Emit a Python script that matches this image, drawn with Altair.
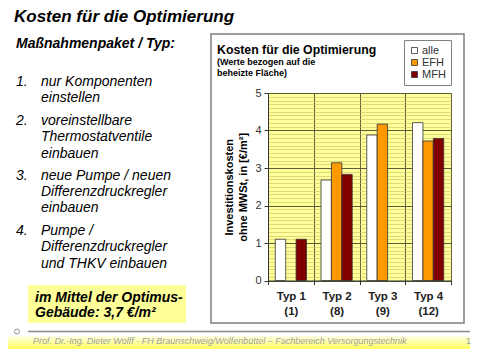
import altair as alt
import pandas as pd

# ---------------- data ----------------
typ = ["Typ 1", "Typ 2", "Typ 3", "Typ 4"]
anzahl = ["(1)", "(8)", "(9)", "(12)"]
serien = ["alle", "EFH", "MFH"]
alle = [1.10, 2.68, 3.88, 4.21]
efh = [None, 3.14, 4.17, 3.72]
mfh = [1.10, 2.83, None, 3.79]
farben = ["#FFFFFF", "#FF9900", "#800000"]

slide_title = "Kosten für die Optimierung"
heading = "Maßnahmenpaket / Typ:"
nummern = ["1.", "2.", "3.", "4."]
items = [
    ["nur Komponenten", "einstellen"],
    ["voreinstellbare", "Thermostatventile", "einbauen"],
    ["neue Pumpe / neuen", "Differenzdruckregler", "einbauen"],
    ["Pumpe /", "Differenzdruckregler", "und THKV einbauen"],
]
highlight = ["im Mittel der Optimus-", "Gebäude: 3,7 €/m²"]
chart_title = "Kosten für die Optimierung"
chart_subtitle = ["(Werte bezogen auf die", "beheizte Fläche)"]
y_title = ["Investitionskosten", "ohne MWSt, in [€/m²]"]
footer = "Prof. Dr.-Ing. Dieter Wolff  -  FH Braunschweig/Wolfenbüttel – Fachbereich Versorgungstechnik"
page_no = "1"

kategorien = [f"{t}|{a}" for t, a in zip(typ, anzahl)]
rows = []
for i, k in enumerate(kategorien):
    for s, vals in zip(serien, [alle, efh, mfh]):
        if vals[i] is not None:
            rows.append({"Typ": k, "Serie": s, "Wert": vals[i]})
df = pd.DataFrame(rows)

# ---------------- layout helpers ----------------
FONT = "Liberation Sans"
OX, OY = 268, 93          # page position of the plot origin
PW, PH = 183, 187.5       # plot size
one = alt.Data(values=[{}])


def txt(text, x, y, size, weight="normal", style="normal", color="black", lh=None, align="left"):
    kw = dict(text=text, fontSize=size, fontWeight=weight, fontStyle=style, color=color,
              align=align, baseline="alphabetic", font=FONT)
    if lh:
        kw["lineHeight"] = lh
    return alt.Chart(one).mark_text(**kw).encode(x=alt.value(x - OX), y=alt.value(y - OY))


def rect(x1, y1, x2, y2, **kw):
    return alt.Chart(one).mark_rect(**kw).encode(
        x=alt.value(x1 - OX), x2=alt.value(x2 - OX), y=alt.value(y1 - OY), y2=alt.value(y2 - OY))


deko = []
deko.append(rect(8, 336, 470, 349, fill=alt.Gradient(
    gradient="linear", x1=0, x2=0, y1=0, y2=1,
    stops=[alt.GradientStop(offset=0, color="#FFFFE6"), alt.GradientStop(offset=1, color="#FFFF5A")])))
deko.append(rect(28, 285, 186, 323, fill="#FFFF99"))
deko.append(rect(211, 34, 464, 323, fill="white", fillOpacity=0, stroke="#7F7F7F", strokeWidth=1.5))
deko.append(alt.Chart(one).mark_rule(stroke="#8A8A8A", strokeWidth=1.3).encode(
    x=alt.value(28 - OX), x2=alt.value(470 - OX), y=alt.value(331.5 - OY)))
deko.append(alt.Chart(one).mark_point(shape="circle", size=25, filled=False, stroke="#666666", strokeWidth=1).encode(
    x=alt.value(17 - OX), y=alt.value(331.5 - OY)))

deko.append(txt(slide_title, 14, 22, 17, weight="bold", style="italic"))
deko.append(txt(heading, 16, 48, 14, weight="bold", style="italic"))
starts = [86, 125, 179.5, 235]
for n, lines, yb in zip(nummern, items, starts):
    deko.append(txt(n, 16, yb, 14, style="italic"))
    deko.append(txt(lines, 41, yb, 14, style="italic", lh=16.4))
deko.append(txt(highlight, 35, 301.7, 14, weight="bold", style="italic", lh=15))
deko.append(txt(footer, 33, 343.5, 9, style="italic", color="#A0A0A0"))
deko.append(txt(page_no, 466, 343.5, 9, color="#A0A0A0"))
deko.append(txt(chart_title, 217, 54, 12.3, weight="bold"))
deko.append(txt(chart_subtitle, 217, 65, 9, weight="bold", lh=11))

# ---------------- bar chart ----------------
minor = [i / 10 for i in range(51)]
is_major = "datum.value % 1 === 0"
MAJOR = "#5C5C38"
MINOR = "#C9BD68"

bars = alt.Chart(df).mark_bar(stroke="#333333", strokeWidth=0.8).encode(
    x=alt.X("Typ:N", scale=alt.Scale(domain=kategorien, paddingInner=0, paddingOuter=0),
            axis=alt.Axis(title=None, labelExpr="split(datum.label, '|')", labelAngle=0,
                          labelFontSize=11.5, labelFontWeight="bold", labelColor="#222222",
                          labelFont=FONT, labelLineHeight=15, labelPadding=6,
                          tickBand="extent", tickSize=4, tickColor="#333333",
                          grid=True, gridColor=MAJOR, gridWidth=1, domainColor="#333333")),
    xOffset=alt.XOffset("Serie:N", scale=alt.Scale(domain=serien, paddingInner=0, paddingOuter=0.7)),
    y=alt.Y("Wert:Q", scale=alt.Scale(domain=[0, 5], nice=False, zero=True),
            axis=alt.Axis(values=minor, labelOverlap=False,
                          labelExpr=f"{is_major} ? format(datum.value, 'd') : ''",
                          gridColor={"condition": {"test": is_major, "value": MAJOR}, "value": MINOR},
                          gridWidth={"condition": {"test": is_major, "value": 1}, "value": 0.6},
                          tickOpacity={"condition": {"test": is_major, "value": 1}, "value": 0},
                          tickColor="#333333", tickSize=4, labelPadding=3,
                          labelFontSize=11, labelColor="#333333", labelFont=FONT,
                          domainColor="#333333",
                          title=y_title, titleFontSize=11, titleFontWeight="bold",
                          titleFont=FONT, titleColor="black", titleLineHeight=14,
                          titleX=-34, titleY=PH / 2, titleAlign="center", titleBaseline="bottom")),
    color=alt.Color("Serie:N", scale=alt.Scale(domain=serien, range=farben),
                    legend=alt.Legend(title=None, orient="none", legendX=136, legendY=-53,
                                      symbolType="square", symbolSize=36,
                                      symbolStrokeColor="#333333", symbolStrokeWidth=0.8,
                                      labelFontSize=11, labelFont=FONT, labelColor="#333333",
                                      labelOffset=2, rowPadding=0, padding=5,
                                      strokeColor="#808080", fillColor="white")),
)

chart = alt.layer(*deko, bars).properties(
    width=PW, height=PH, autosize="none",
    padding={"left": OX - 8, "top": OY - 8, "right": 472 - OX - PW, "bottom": 349 - OY - PH},
    background="white",
).configure(font=FONT).configure_view(fill="#FFFF99", stroke="transparent")

chart.save("out.html", embed_options={"renderer": "svg", "actions": False})
